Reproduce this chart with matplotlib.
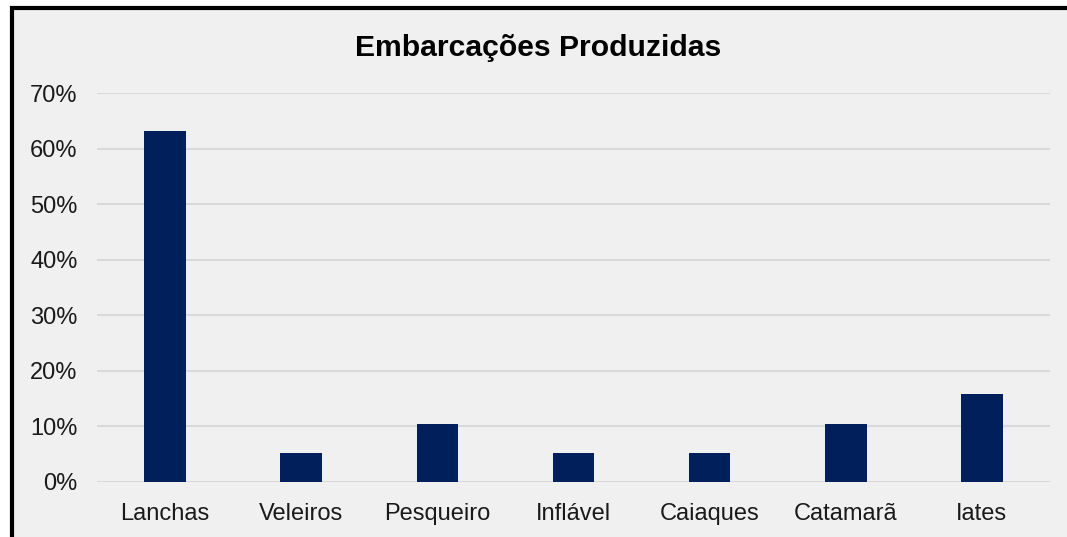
import matplotlib
matplotlib.use("Agg")
import matplotlib.pyplot as plt
from matplotlib.patches import Rectangle
from matplotlib.ticker import FuncFormatter, MultipleLocator

categories = ["Lanchas", "Veleiros", "Pesqueiro", "Inflável", "Caiaques", "Catamarã", "Iates"]
values = [63.2, 5.3, 10.5, 5.3, 5.3, 10.5, 15.8]
title = "Embarcações Produzidas"

W, H = 1067, 537
fig = plt.figure(figsize=(W / 100, H / 100), dpi=100)
fig.patch.set_facecolor("white")

# chart area frame (top and left border visible, rest cropped)
bg = Rectangle((11.5 / W, -0.1), 1.2, 1 - 8 / H + 0.1, transform=fig.transFigure,
               facecolor="#f0f0f0", edgecolor="black", linewidth=3.0, zorder=-10)
fig.patches.append(bg)

ax = fig.add_axes([97 / W, 1 - 482 / H, (1050 - 97) / W, (482 - 93) / H])
ax.set_facecolor("none")
x = list(range(len(categories)))
ax.bar(x, values, width=0.305, color="#001f5b", zorder=3)
ax.set_xlim(-0.5, len(categories) - 0.5)
ax.set_ylim(0, 70)
ax.yaxis.set_major_locator(MultipleLocator(10))
ax.yaxis.set_major_formatter(FuncFormatter(lambda v, p: f"{int(round(v))}%"))
ax.grid(axis="y", color="#d9d9d9", linewidth=1.5, zorder=0)
ax.set_axisbelow(True)
for s in ax.spines.values():
    s.set_visible(False)
ax.set_xticks(x)
ax.set_xticklabels(categories)
ax.tick_params(axis="both", length=0, labelsize=17, colors="#1a1a1a")
ax.tick_params(axis="y", pad=14)
ax.tick_params(axis="x", pad=15)
for lab in ax.get_xticklabels() + ax.get_yticklabels():
    lab.set_family(["Liberation Sans", "DejaVu Sans"])

fig.text(538 / W, 1 - 48.5 / H, title, ha="center", va="center", fontsize=21.7,
         fontweight="bold", family=["Liberation Sans", "DejaVu Sans"], color="black")

fig.savefig("out.png", dpi=100)
